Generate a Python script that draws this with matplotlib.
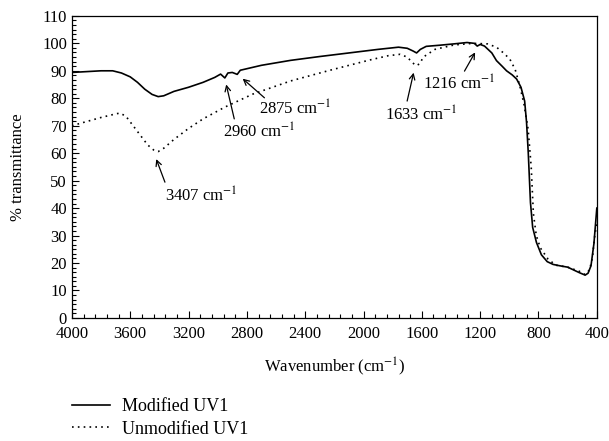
import matplotlib
matplotlib.use('Agg')
import matplotlib.pyplot as plt
from matplotlib.ticker import MultipleLocator, AutoMinorLocator

plt.rcParams['font.family'] = ['Liberation Serif', 'DejaVu Serif']
plt.rcParams['mathtext.fontset'] = 'stix'

# Modified UV1 (solid)
mod_wn = [4000, 3900, 3800, 3720, 3660, 3600, 3550, 3500, 3450, 3408, 3370, 3300,
          3200, 3100, 3020, 2980, 2951, 2930, 2900, 2866, 2845, 2700, 2500, 2300,
          2100, 1900, 1760, 1700, 1660, 1636, 1610, 1570, 1480, 1380, 1290, 1240,
          1220, 1200, 1170, 1120, 1088, 1050, 1019, 980, 950, 920, 895, 882,
          870, 855, 840, 814, 780, 740, 700, 654, 600, 560, 520, 480, 460, 440,
          420, 400]
mod_t = [89.4, 89.7, 90.0, 90.0, 89.2, 87.8, 85.8, 83.3, 81.4, 80.6, 80.9, 82.5,
         84.0, 85.8, 87.6, 88.8, 87.4, 89.2, 89.4, 88.7, 90.2, 92.0, 93.8, 95.2,
         96.5, 97.8, 98.6, 98.2, 97.2, 96.5, 97.8, 98.9, 99.3, 99.8, 100.3, 100.0,
         99.0, 99.6, 99.0, 96.5, 93.7, 91.7, 90.0, 88.5, 87.0, 84.0, 79.0, 71.3,
         60.0, 42.0, 33.0, 27.5, 23.0, 20.5, 19.5, 19.0, 18.5, 17.5, 16.5, 15.6,
         16.3, 19.0, 27.0, 40.0]

# Unmodified UV1 (dotted)
unmod_wn = [4000, 3900, 3800, 3700, 3671, 3630, 3580, 3530, 3480, 3440, 3408, 3370,
            3300, 3200, 3100, 2950, 2760, 2500, 2230, 1960, 1830, 1750, 1700, 1665,
            1640, 1615, 1590, 1510, 1380, 1250, 1150, 1088, 1040, 997, 960, 928,
            900, 871, 850, 835, 815, 787, 734, 680, 600, 520, 480, 450, 430, 414, 400]
unmod_t = [70.0, 71.5, 73.0, 74.3, 74.6, 73.5, 70.0, 66.5, 63.0, 61.2, 60.6, 61.8,
           65.0, 69.0, 72.5, 76.8, 81.5, 86.3, 90.2, 93.9, 95.5, 96.0, 95.0, 93.0,
           91.9, 92.5, 95.0, 97.8, 99.4, 100.0, 99.8, 98.6, 96.5, 94.3, 90.5, 84.5,
           78.0, 68.7, 55.0, 38.0, 30.0, 25.5, 21.4, 19.2, 18.5, 17.0, 15.8, 17.5,
           22.0, 30.0, 34.5]

# peak labels with text position, arrow tail and arrow head (wavenumber, %T)
peak_labels = ['3407', '2960', '2875', '1633', '1216']
text_wn = [3362, 2965, 2718, 1854, 1593]
text_t = [44.3, 67.7, 76.0, 73.8, 85.2]
tail_wn = [3355, 2882, 2665, 1705, 1317]
tail_t = [48.5, 71.5, 79.5, 78.0, 89.0]
head_wn = [3428, 2946, 2843, 1652, 1225]
head_t = [58.8, 86.0, 87.8, 90.3, 97.6]

fig = plt.figure(figsize=(6.09, 4.41), dpi=100)
ax = fig.add_axes([0.118, 0.279, 0.862, 0.685])

ax.plot(mod_wn, mod_t, color='black', linewidth=1.2, label='Modified UV1')
ax.plot(unmod_wn, unmod_t, color='black', linewidth=1.2, linestyle=(0, (1, 2.5)),
        label='Unmodified UV1')

for lab, tw, tt, aw, at, hw, ht in zip(peak_labels, text_wn, text_t, tail_wn, tail_t, head_wn, head_t):
    ax.annotate('', xy=(hw, ht), xytext=(aw, at),
                arrowprops=dict(arrowstyle='->', color='black', lw=0.9))
    ax.text(tw, tt, lab + r' cm$^{-1}$', fontsize=12, ha='left', va='center')

ax.set_xlim(4000, 400)
ax.set_ylim(0, 110)
ax.xaxis.set_major_locator(MultipleLocator(400))
ax.xaxis.set_minor_locator(MultipleLocator(80))
ax.yaxis.set_major_locator(MultipleLocator(10))
ax.yaxis.set_minor_locator(AutoMinorLocator(6))
ax.tick_params(which='both', direction='in', top=False, right=False, labelsize=12)
ax.tick_params(which='major', length=5, width=0.8)
ax.tick_params(which='minor', length=3, width=0.8)
ax.tick_params(axis='x', which='major', pad=5.5)
for s in ax.spines.values():
    s.set_linewidth(0.9)

ax.set_xlabel(r'Wavenumber (cm$^{-1}$)', fontsize=12, labelpad=10)
ax.set_ylabel('% transmittance', fontsize=12)
ax.yaxis.set_label_coords(-0.088, 0.5)

fig.legend(loc='upper left', bbox_to_anchor=(0.118, 0.097), frameon=False,
           fontsize=13, handlelength=2.1, labelspacing=0.3, handletextpad=0.65,
           borderpad=0, borderaxespad=0)

plt.savefig('out.png', dpi=100)
